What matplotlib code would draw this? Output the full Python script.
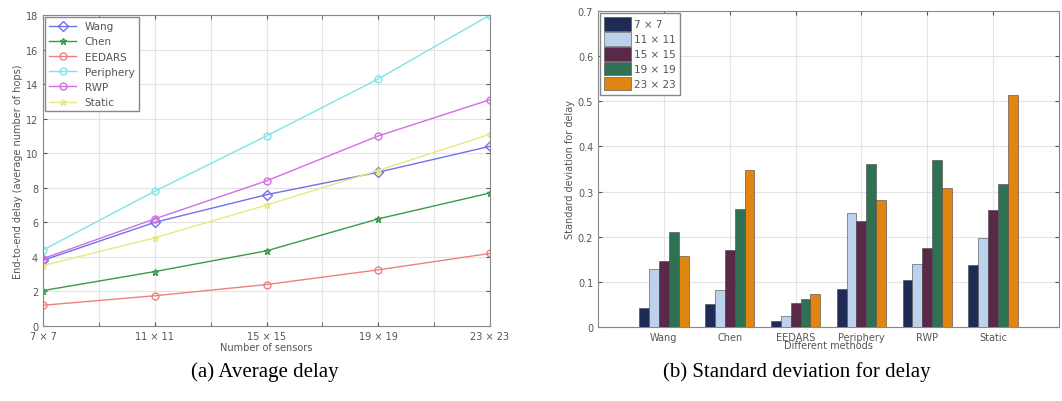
import matplotlib.pyplot as plt
import numpy as np

sizes = ["7 × 7", "11 × 11", "15 × 15", "19 × 19", "23 × 23"]
methods = ["Wang", "Chen", "EEDARS", "Periphery", "RWP", "Static"]

# average delay (hops) per method, one value per network size
wang = [3.8, 6.0, 7.6, 8.9, 10.4]
chen = [2.05, 3.15, 4.35, 6.2, 7.7]
eedars = [1.2, 1.75, 2.4, 3.25, 4.2]
periphery = [4.4, 7.8, 11.0, 14.3, 18.0]
rwp = [3.9, 6.2, 8.4, 11.0, 13.1]
static = [3.5, 5.1, 7.0, 9.0, 11.1]

# std of delay, one list per network size, values in method order
std_7 = [0.043, 0.051, 0.014, 0.084, 0.104, 0.138]
std_11 = [0.129, 0.082, 0.024, 0.253, 0.140, 0.197]
std_15 = [0.146, 0.171, 0.053, 0.235, 0.176, 0.260]
std_19 = [0.210, 0.262, 0.061, 0.362, 0.371, 0.316]
std_23 = [0.158, 0.347, 0.072, 0.281, 0.307, 0.514]

txt = '#555555'
plt.rcParams['font.family'] = 'DejaVu Sans'
plt.rcParams['font.size'] = 7
plt.rcParams['text.color'] = txt
plt.rcParams['axes.labelcolor'] = txt
plt.rcParams['xtick.color'] = txt
plt.rcParams['ytick.color'] = txt

fig = plt.figure(figsize=(10.62, 4.02), dpi=100)

# ---- (a) average delay
ax1 = fig.add_axes([43/1062, 1-327/402, (490-43)/1062, (327-16)/402])
x = np.arange(1, len(sizes)+1)
series = [(wang, 'Wang', '#7070ee', 'D'),
          (chen, 'Chen', '#3a9a4a', '*'),
          (eedars, 'EEDARS', '#f08080', 'o'),
          (periphery, 'Periphery', '#80e4e4', 'o'),
          (rwp, 'RWP', '#d070e0', 'o'),
          (static, 'Static', '#e8e880', '*')]
for vals, name, col, mk in series:
    ax1.plot(x, vals, color=col, marker=mk, markersize=5, markerfacecolor='none',
             linewidth=1, label=name)
ax1.set_xlim(1, 5)
ax1.set_ylim(0, 18)
ax1.set_yticks(np.arange(0, 19, 2))
ax1.set_xticks(x)
ax1.set_xticklabels(sizes)
ax1.set_xticks(np.arange(1.5, 5, 1), minor=True)
ax1.grid(True, which='both', color='#e4e4e4', linewidth=0.8)
ax1.tick_params(which='both', direction='in', top=True, right=True, length=3)
ax1.set_xlabel("Number of sensors", labelpad=1)
ax1.set_ylabel("End-to-end delay (average number of hops)", labelpad=2)
for s in ax1.spines.values():
    s.set_color('#888888')
ax1.legend(loc='upper left', fontsize=7.5, handlelength=2.6, borderaxespad=0.2,
           labelspacing=0.5, fancybox=False, edgecolor='#888888', framealpha=1)

# ---- (b) std of delay
ax2 = fig.add_axes([598/1062, 1-328/402, (1059-598)/1062, (328-12)/402])
xm = np.arange(1, len(methods)+1)
w = 0.15
groups = [(std_7, sizes[0], '#1f2a55'),
          (std_11, sizes[1], '#bcd2ec'),
          (std_15, sizes[2], '#5a2848'),
          (std_19, sizes[3], '#2f7253'),
          (std_23, sizes[4], '#e08512')]
for i, (vals, name, col) in enumerate(groups):
    ax2.bar(xm + (i-2)*w, vals, width=w, color=col, edgecolor='#444444',
            linewidth=0.4, label=name, zorder=3)
ax2.set_xlim(0, 7)
ax2.set_ylim(0, 0.7)
ax2.set_yticks(np.arange(0, 0.71, 0.1))
ax2.set_yticklabels(['0', '0.1', '0.2', '0.3', '0.4', '0.5', '0.6', '0.7'])
ax2.set_xticks(xm)
ax2.set_xticklabels(methods)
ax2.grid(True, color='#e4e4e4', linewidth=0.8, zorder=0)
ax2.tick_params(direction='in', top=True, right=True, length=3)
ax2.set_xlabel("Different methods", labelpad=-1)
ax2.set_ylabel("Standard deviation for delay", labelpad=2)
for s in ax2.spines.values():
    s.set_color('#888888')
ax2.legend(loc='upper left', fontsize=7.5, handlelength=2.6, handleheight=1.6,
           handletextpad=0.3, borderaxespad=0.2, labelspacing=0.15,
           fancybox=False, edgecolor='#888888', framealpha=1)

# captions
fig.text(265/1062, 1-372/402, "(a) Average delay", family='Liberation Serif',
         fontsize=15, color='black', ha='center', va='center')
fig.text(797/1062, 1-372/402, "(b) Standard deviation for delay",
         family='Liberation Serif', fontsize=15, color='black',
         ha='center', va='center')

fig.savefig("out.png", dpi=100)
